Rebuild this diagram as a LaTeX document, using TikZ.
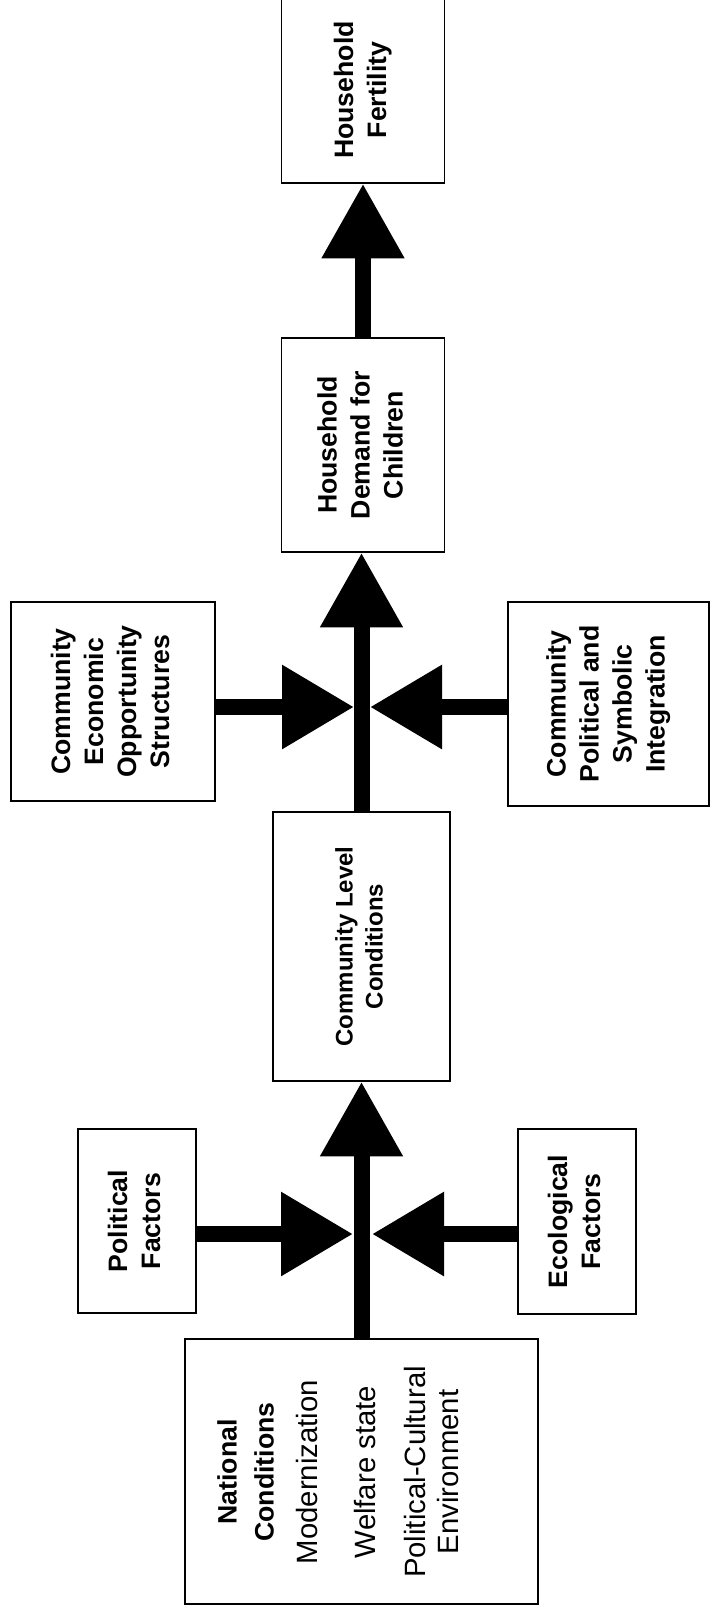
\documentclass[tikz,border=0pt]{standalone}
\usepackage{fontspec}
\setmainfont{Liberation Sans}
\usetikzlibrary{arrows.meta}

\newcommand{\uptext}[2][0pt]{\rotatebox{90}{\begin{tabular}{@{}c@{}}#2\end{tabular}}\hspace{#1}}
\newcommand{\itemfont}{\fontsize{22}{26}\selectfont\mdseries}

\tikzset{
    box/.style={draw, line width=1.1pt, inner sep=0pt, font=\fontsize{20}{24.75}\selectfont\bfseries},
    flow/.style={line width=12pt, -{Triangle[length=56pt,width=59pt]}},
    sideflow/.style={line width=12pt, -{Triangle[length=54pt,width=60pt]}}
}

\begin{document}
\begin{tikzpicture}[x=0.75pt, y=-0.75pt]
        \useasboundingbox (0, 0) rectangle (710, 1618);

        \node[box, minimum width=122.25pt, minimum height=139.5pt] (fertility) at(363, 90){\uptext[-9pt]{Household\\Fertility}};
        \node[box, minimum width=122.25pt, minimum height=160.5pt] (demand) at(363, 445){\uptext{Household\\Demand for\\Children}};
        \node[box, minimum width=153pt, minimum height=149.25pt] (econ) at(113, 701.5){\uptext[10.5pt]{Community\\Economic\\Opportunity\\Structures}};
        \node[box, minimum width=150.75pt, minimum height=153pt] (polsym) at(608.5, 704){\uptext[7.8pt]{Community\\Political and\\Symbolic\\Integration}};
        \node[box, minimum width=132.75pt, minimum height=201.75pt, font=\fontsize{18}{22.5}\selectfont\bfseries] (commlevel) at(361.5, 946.5){\uptext[7.8pt]{Community Level\\Conditions}};
        \node[box, minimum width=88.5pt, minimum height=138pt] (political) at(137, 1221){\uptext[-6pt]{Political\\Factors}};
        \node[box, minimum width=88.5pt, minimum height=138.75pt] (ecological) at(577, 1221.5){\uptext[-7.5pt]{Ecological\\Factors}};
        \node[box, minimum width=264.75pt, minimum height=198.75pt] (national) at(361.5, 1471.5){};
        \node[font=\fontsize{20}{24.75}\selectfont\bfseries, inner sep=0pt] (natlabel) at(341, 1472){\uptext{National\\[3pt]Conditions\\[8.25pt]{\itemfont Modernization}\\[18.75pt]{\itemfont Welfare state}\\[12.75pt]{\itemfont Political-Cultural}\\{\itemfont Environment}}};

        \coordinate (ujl) at(354, 707);
        \coordinate (ujr) at(370, 707);
        \coordinate (ljl) at(353, 1234);
        \coordinate (ljr) at(372, 1234);

        \draw[flow](demand.north) to (fertility.south);
        \draw[flow](commlevel.north) to (commlevel.north |- demand.south);
        \draw[flow](national.north) to (national.north |- commlevel.south);

        \draw[sideflow](econ.east |- ujl) to (ujl);
        \draw[sideflow](polsym.west |- ujr) to (ujr);
        \draw[sideflow](political.east |- ljl) to (ljl);
        \draw[sideflow](ecological.west |- ljr) to (ljr);
\end{tikzpicture}
\end{document}
